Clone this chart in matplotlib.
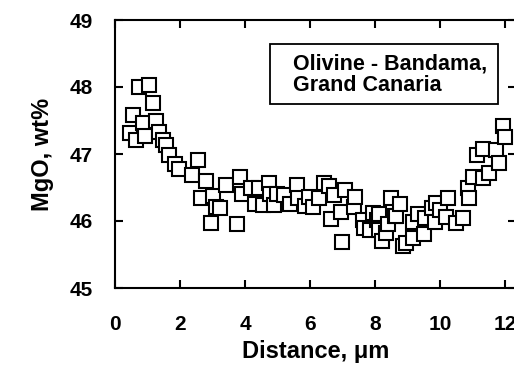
import matplotlib
matplotlib.use("Agg")
import matplotlib.pyplot as plt
from matplotlib.patches import Rectangle

# Data
distance_um = [0.46, 0.56, 0.65, 0.73, 0.85, 0.93, 1.06, 1.16, 1.26, 1.34,
               1.47, 1.57, 1.67, 1.86, 1.96, 2.37, 2.54, 2.65, 2.80, 2.95,
               3.00, 3.10, 3.23, 3.42, 3.75, 3.83, 3.90, 4.17, 4.29, 4.44,
               4.54, 4.72, 4.78, 4.88, 4.98, 5.19, 5.39, 5.60, 5.64, 5.83,
               5.98, 6.10, 6.27, 6.44, 6.57, 6.65, 6.72, 6.95, 6.99, 7.06,
               7.36, 7.39, 7.64, 7.67, 7.83, 7.93, 8.06, 8.11, 8.11, 8.22,
               8.32, 8.39, 8.49, 8.62, 8.65, 8.77, 8.85, 8.95, 9.16, 9.16,
               9.31, 9.50, 9.52, 9.74, 9.83, 9.88, 10.00, 10.18, 10.23, 10.49,
               10.70, 10.85, 10.90, 11.00, 11.14, 11.31, 11.31, 11.49, 11.72, 11.82,
               11.93, 12.00]
mgo_wt = [47.31, 47.58, 47.21, 48.00, 47.47, 47.27, 48.03, 47.76, 47.50, 47.33,
          47.21, 47.13, 46.99, 46.85, 46.77, 46.68, 46.91, 46.34, 46.60, 45.97,
          46.37, 46.21, 46.20, 46.54, 45.95, 46.66, 46.41, 46.49, 46.26, 46.49,
          46.24, 46.57, 46.40, 46.24, 46.40, 46.39, 46.26, 46.54, 46.35, 46.22,
          46.36, 46.21, 46.34, 46.56, 46.52, 46.03, 46.39, 46.14, 45.68, 46.47,
          46.21, 46.36, 46.01, 45.89, 45.87, 46.12, 46.01, 46.11, 45.87, 45.70,
          45.82, 45.95, 46.35, 46.07, 46.07, 46.25, 45.63, 45.67, 45.99, 45.74,
          46.11, 45.80, 46.04, 46.19, 45.99, 46.27, 46.16, 46.06, 46.35, 45.97,
          46.04, 46.49, 46.35, 46.66, 46.99, 47.08, 46.64, 46.72, 47.06, 46.86,
          47.42, 47.26]

x_ticks = [0, 2, 4, 6, 8, 10, 12]
y_ticks = [45, 46, 47, 48, 49]
x_label = "Distance, \u03bcm"
y_label = "MgO, wt%"
box_text = "Olivine - Bandama,\nGrand Canaria"

plt.rcParams['font.family'] = ['Liberation Sans', 'DejaVu Sans']

W, H = 514, 368
fig = plt.figure(figsize=(W / 100, H / 100), dpi=100)
ax = fig.add_axes([115 / W, (H - 288) / H, 401 / W, 268 / H])

ax.plot(distance_um, mgo_wt, linestyle='none', marker='s', markersize=9.5,
        markerfacecolor='white', markeredgecolor='black', markeredgewidth=1.5)

ax.set_xlim(0, 12.33)
ax.set_ylim(45, 49)
ax.set_xticks(x_ticks)
ax.set_yticks(y_ticks)
ax.tick_params(direction='in', length=6, width=1.5, top=True, right=True,
               labelsize=15)
ax.tick_params(axis='x', pad=19.5)
ax.tick_params(axis='y', pad=16)
for lab in ax.get_xticklabels() + ax.get_yticklabels():
    lab.set_fontweight('bold')
for s in ax.spines.values():
    s.set_linewidth(1.5)

ax.set_xlabel(x_label, fontsize=17, fontweight='bold', labelpad=4)
ax.set_ylabel(y_label, fontsize=17, fontweight='bold', labelpad=11)

# annotation box
def px2ax(px, py):
    x0, y0 = 115, 288
    return (px - x0) / 401, (y0 - py) / 268

bx0, by0 = px2ax(270, 104)
bx1, by1 = px2ax(498, 44)
ax.add_patch(Rectangle((bx0, by0), bx1 - bx0, by1 - by0, transform=ax.transAxes,
                       facecolor='white', edgecolor='black', linewidth=1.3,
                       zorder=5))
tx, ty = px2ax(293, 75)
ax.text(tx, ty, box_text, transform=ax.transAxes, fontsize=15.5,
        fontweight='bold', ha='left', va='center', linespacing=1.05, zorder=6)

fig.savefig("out.png", dpi=100)
